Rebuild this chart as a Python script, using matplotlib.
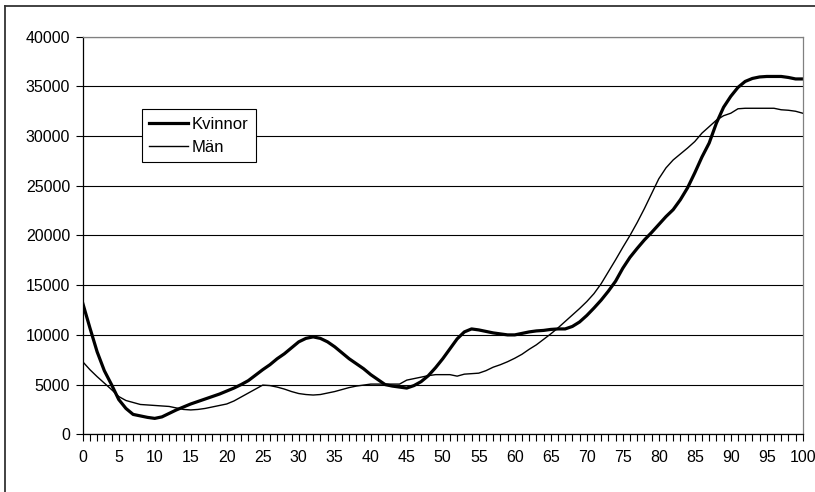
import numpy as np
import matplotlib
matplotlib.use("Agg")
import matplotlib.pyplot as plt
from matplotlib.ticker import MultipleLocator
from matplotlib.lines import Line2D

plt.rcParams['font.family'] = ['Liberation Sans', 'DejaVu Sans']

# age 0..100
ages = list(range(0, 101))

kvinnor = [
    13200, 10700, 8300, 6400, 5000, 3500, 2600, 2000, 1850, 1700,
    1600, 1750, 2100, 2450, 2750, 3050, 3300, 3550, 3800, 4050,
    4350, 4650, 5000, 5400, 5950, 6500, 7000, 7600, 8100, 8700,
    9300, 9650, 9800, 9650, 9300, 8800, 8200, 7600, 7100, 6600,
    6000, 5500, 5000, 4850, 4750, 4650, 4900, 5300, 5900, 6700,
    7600, 8600, 9600, 10300, 10600, 10500, 10350, 10200, 10100, 10000,
    10000, 10150, 10300, 10400, 10450, 10550, 10600, 10600, 10850, 11300,
    11950, 12700, 13500, 14400, 15400, 16700, 17800, 18700, 19550, 20300,
    21100, 21900, 22600, 23600, 24800, 26300, 27900, 29300, 31300, 32900,
    34000, 34900, 35500, 35800, 35950, 36000, 36000, 36000, 35900, 35750,
    35750,
]

man = [
    7300, 6500, 5800, 5150, 4500, 3800, 3400, 3200, 3000, 2950,
    2900, 2850, 2800, 2650, 2500, 2450, 2500, 2600, 2750, 2900,
    3050, 3350, 3750, 4150, 4550, 4950, 4900, 4750, 4550, 4300,
    4100, 4000, 3950, 4000, 4150, 4300, 4500, 4700, 4850, 4950,
    5050, 5050, 5050, 5050, 5050, 5450, 5600, 5750, 5900, 6000,
    6000, 6000, 5850, 6050, 6100, 6150, 6400, 6750, 7000, 7300,
    7650, 8050, 8550, 9000, 9550, 10100, 10700, 11350, 12000, 12650,
    13350, 14150, 15150, 16350, 17550, 18800, 20000, 21300, 22700, 24200,
    25700, 26800, 27600, 28200, 28800, 29450, 30300, 30950, 31600, 32050,
    32300, 32750, 32800, 32800, 32800, 32800, 32800, 32650, 32600, 32500,
    32300,
]

fig = plt.figure(figsize=(8.15, 4.92), dpi=100)
ax = fig.add_axes([0.1015, 0.1173, 0.8835, 0.8081])

# horizontal gridlines
ax.set_axisbelow(True)
ax.yaxis.grid(True, color='black', linewidth=0.8)

ax.plot(ages, kvinnor, color='black', linewidth=2.3, label='Kvinnor')
ax.plot(ages, man, color='black', linewidth=1.0, label='Män')

ax.set_xlim(0, 100)
ax.set_ylim(0, 40000)
ax.yaxis.set_major_locator(MultipleLocator(5000))
ax.xaxis.set_major_locator(MultipleLocator(5))
ax.xaxis.set_minor_locator(MultipleLocator(1))

ax.tick_params(axis='both', which='both', direction='out', colors='black',
               labelsize=11.5, width=0.8)
ax.tick_params(axis='x', which='both', length=5, pad=6)
ax.tick_params(axis='y', length=5, pad=4)

ax.spines['left'].set_color('black')
ax.spines['bottom'].set_color('black')
ax.spines['top'].set_color('#808080')
ax.spines['right'].set_color('#808080')
for s in ax.spines.values():
    s.set_linewidth(0.9)

leg = ax.legend(loc='upper left', bbox_to_anchor=(0.082, 0.818),
                borderaxespad=0, fancybox=False, shadow=False,
                edgecolor='black', framealpha=1, fontsize=12,
                handlelength=2.3, handletextpad=0.25, borderpad=0.45,
                labelspacing=0.5)
leg.get_frame().set_linewidth(0.8)

# outer chart frame (left and top edges visible)
fig.add_artist(Line2D([0.0061, 0.0061], [0, 0.9888], color='#333333', linewidth=1.3))
fig.add_artist(Line2D([0.0061, 1], [0.9888, 0.9888], color='#333333', linewidth=1.3))

fig.savefig('out.png', dpi=100)
